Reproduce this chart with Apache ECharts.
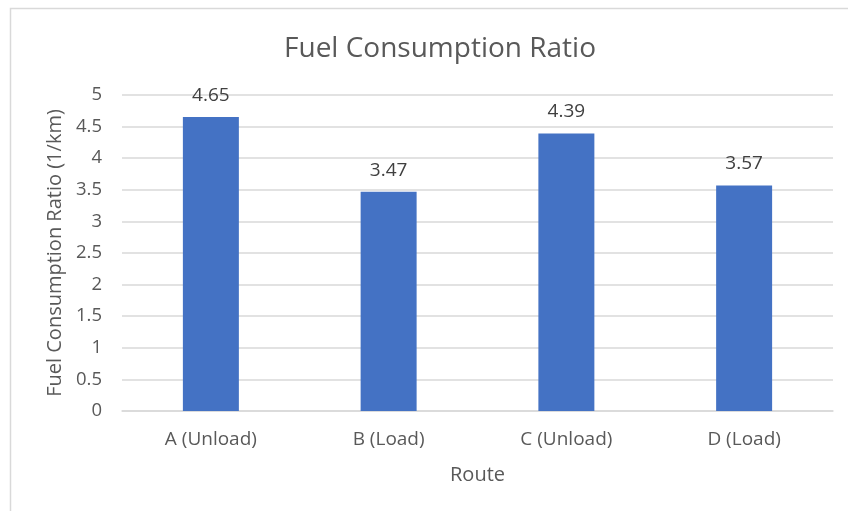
<!DOCTYPE html>
<html><head><meta charset="utf-8">
<script src="https://cdn.jsdelivr.net/npm/echarts@6/dist/echarts.min.js"></script>
<style>html,body{margin:0;padding:0;background:#fff}#c{width:848px;height:511px}</style>
</head><body><div id="c"></div>
<script>
const categories = ['A (Unload)', 'B (Load)', 'C (Unload)', 'D (Load)'];
const values = [4.65, 3.47, 4.39, 3.57];
const yTicks = [0, 0.5, 1, 1.5, 2, 2.5, 3, 3.5, 4, 4.5, 5];
const font = '"Open Sans", "Noto Sans", sans-serif';
const chart = echarts.init(document.getElementById('c'));
chart.setOption({
  animation: false,
  graphic: [{type:'rect', shape:{x:10.5, y:8.5, width:860, height:520}, style:{fill:'none', stroke:'#d9d9d9', lineWidth:1.5}, silent:true}],
  title: {text:'Fuel Consumption Ratio', left:435, top:30, textAlign:'center',
    textStyle:{fontFamily:font, fontSize:28, fontWeight:'normal', color:'#595959'}},
  grid: {left:122, right:15, top:95, bottom:100},
  xAxis: {type:'category', data:categories, name:'Route', nameLocation:'middle', nameGap:54,
    nameTextStyle:{fontFamily:font, fontSize:20, color:'#595959'},
    axisLine:{lineStyle:{color:'#d9d9d9', width:1.5}}, axisTick:{show:false},
    axisLabel:{fontFamily:font, fontSize:19, color:'#595959', margin:19}},
  yAxis: {type:'value', min:0, max:5, interval:0.5,
    name:'Fuel Consumption Ratio (1/km)', nameLocation:'middle', nameGap:56,
    nameTextStyle:{fontFamily:font, fontSize:20, color:'#595959'},
    axisLine:{show:false}, axisTick:{show:false},
    splitLine:{lineStyle:{color:'#d9d9d9', width:1.5}},
    axisLabel:{fontFamily:font, fontSize:18.5, color:'#595959', margin:20,
      formatter:v => yTicks.includes(v) ? String(v) : ''}},
  series: [{type:'bar', data:values, barWidth:'31.5%', itemStyle:{color:'#4472c4'},
    label:{show:true, position:'top', distance:12, fontFamily:font, fontSize:19, color:'#404040'}}]
});
</script></body></html>
